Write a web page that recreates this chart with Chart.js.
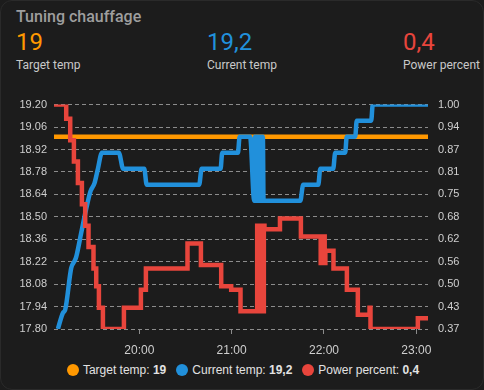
<!DOCTYPE html>
<html>
<head>
<meta charset="utf-8">
<script src="https://cdn.jsdelivr.net/npm/chart.js@4/dist/chart.umd.min.js"></script>
<style>
  html, body { margin: 0; padding: 0; background: #1c1c1c; }
  #card { position: relative; width: 484px; height: 390px; background: #1c1c1c; border-radius: 12px; overflow: hidden; box-sizing: border-box; border: 1px solid #2a2a2a; }
  .t { position: absolute; white-space: nowrap; font-family: Roboto, sans-serif; }
  #title { left: 15px; top: 8px; font-size: 16px; line-height: 16px; color: #9e9e9e; font-weight: 500; }
  .val { font-size: 24px; line-height: 24px; top: 29px; }
  .lab { font-size: 12px; line-height: 12px; top: 58px; color: #c9c9c9; }
  #chartWrap { position: absolute; left: 0; top: 87px; }
  #legend { position: absolute; left: 0; width: 484px; top: 362px; display: flex; justify-content: center; font-family: "Liberation Sans", Arial, sans-serif; font-size: 12px; color: #e2e2e2; }
  .li { display: flex; align-items: center; margin: 0 5px; }
  .dot { width: 12px; height: 12px; border-radius: 50%; margin-right: 4px; display: inline-block; }
</style>
</head>
<body>
<div id="card">
  <div id="title" class="t">Tuning chauffage</div>
  <div class="t val" id="v0" style="left:15px;"></div>
  <div class="t lab" id="l0" style="left:15px;"></div>
  <div class="t val" id="v1" style="left:206px;"></div>
  <div class="t lab" id="l1" style="left:206px;"></div>
  <div class="t val" id="v2" style="left:402px;"></div>
  <div class="t lab" id="l2" style="left:402px;"></div>
  <div id="chartWrap"><canvas id="c" width="484" height="274"></canvas></div>
  <div id="legend"></div>
</div>
<script>
// ---- Data ----
const seriesNames = ['Target temp', 'Current temp', 'Power percent'];
const seriesColors = ['#ff9800', '#2190db', '#e8453c'];
const currentStates = ['19', '19,2', '0,4'];

const xMinTime = '19:04:34';
const xMaxTime = '23:07:36';
const xTickTimes = ['20:00', '21:00', '22:00', '23:00'];

const leftTickLabels = ['17.80','17.94','18.08','18.22','18.36','18.50','18.64','18.78','18.92','19.06','19.20'];
const rightTickLabels = ['0.37','0.43','0.50','0.56','0.62','0.68','0.75','0.81','0.87','0.94','1.00'];

const targetTimes = ['19:04:34', '23:07:36'];
const targetValues = [19, 19];

const currentTimes = [
  '19:07:06','19:10:21','19:11:51','19:15:45','19:17:42','19:19:00','19:22:15','19:25:30','19:28:18','19:30:54',
  '19:33:06','19:35:42','19:46:42','19:49:30','20:03:12','20:04:48','20:38:54','20:40:30','20:52:48','20:53:54',
  '21:04:06','21:05:12','21:12:00','21:14:40','21:15:06','21:15:32','21:15:58','21:16:24','21:16:50','21:17:16',
  '21:17:42','21:18:08','21:18:34','21:19:00','21:19:26','21:19:52','21:20:18','21:20:44','21:44:36','21:46:30',
  '21:56:18','21:57:36','22:06:00','22:07:18','22:13:48','22:14:48','22:20:18','22:21:18','22:30:42','22:31:42',
  '23:07:36'
];
const currentValues = [
  17.80,17.90,17.92,18.18,18.22,18.25,18.40,18.55,18.66,18.71,
  18.80,18.90,18.90,18.80,18.80,18.70,18.70,18.80,18.80,18.90,
  18.90,19.00,19.00,18.60,19.00,18.60,19.00,18.60,19.00,18.60,
  19.00,18.60,19.00,18.60,19.00,18.60,19.00,18.60,18.60,18.70,
  18.70,18.80,18.80,18.90,18.90,19.00,19.00,19.10,19.10,19.20,
  19.20
];

const powerTimes = [
  '19:04:34','19:12:30','19:15:06','19:17:30','19:20:06','19:22:42','19:24:50','19:27:00','19:30:14','19:32:00',
  '19:33:45','19:36:21','19:50:00','20:01:02','20:04:17','20:31:19','20:40:02','20:53:13','20:59:43','21:05:46',
  '21:16:36','21:17:02','21:17:28','21:17:54','21:18:20','21:18:46','21:19:12','21:19:38','21:20:04','21:20:30',
  '21:20:56','21:21:20','21:31:24','21:45:00','21:57:52','21:58:18','21:58:44','21:59:10','21:59:36','22:00:02',
  '22:00:28','22:00:54','22:06:11','22:14:53','22:22:00','22:29:36','22:30:14','23:01:00','23:07:36'
];
const powerValues = [
  1.00,0.96,0.90,0.84,0.78,0.72,0.66,0.60,0.54,0.49,
  0.43,0.37,0.43,0.48,0.54,0.61,0.55,0.49,0.48,0.42,
  0.66,0.42,0.66,0.42,0.66,0.42,0.66,0.42,0.66,0.42,
  0.66,0.65,0.68,0.63,0.555,0.63,0.555,0.63,0.555,0.63,
  0.555,0.59,0.54,0.48,0.41,0.43,0.37,0.40,0.40
];

// ---- Helpers ----
function toMin(s) { const p = s.split(':').map(Number); return p[0] * 60 + p[1] + (p[2] || 0) / 60; }
function pts(times, vals) { return times.map((t, i) => ({ x: toMin(t), y: vals[i] })); }
function fmt(v) { const h = Math.floor(v / 60), m = Math.round(v % 60); return String(h).padStart(2, '0') + ':' + String(m).padStart(2, '0'); }

// header
for (let i = 0; i < 3; i++) {
  const v = document.getElementById('v' + i);
  v.textContent = currentStates[i]; v.style.color = seriesColors[i];
  document.getElementById('l' + i).textContent = seriesNames[i];
}
// legend
const lg = document.getElementById('legend');
seriesNames.forEach((n, i) => {
  const d = document.createElement('div'); d.className = 'li';
  d.innerHTML = '<span class="dot" style="background:' + seriesColors[i] + '"></span><span>' + n + ': <b>' + currentStates[i] + '</b></span>';
  lg.appendChild(d);
});

const gridColor = '#8c8c8c';
const labelColor = '#cfcfcf';
const font = 'Liberation Sans';

new Chart(document.getElementById('c'), {
  type: 'line',
  data: {
    datasets: [
      { label: seriesNames[0], data: pts(targetTimes, targetValues), yAxisID: 'y', borderColor: seriesColors[0], borderWidth: 4.5, pointRadius: 0, stepped: true, order: 3 },
      { label: seriesNames[1], data: pts(currentTimes, currentValues), yAxisID: 'y', borderColor: seriesColors[1], borderWidth: 4.5, pointRadius: 0, cubicInterpolationMode: 'monotone', borderJoinStyle: 'round', order: 2 },
      { label: seriesNames[2], data: pts(powerTimes, powerValues), yAxisID: 'y1', borderColor: seriesColors[2], borderWidth: 4.5, pointRadius: 0, stepped: true, borderJoinStyle: 'miter', order: 1 }
    ]
  },
  options: {
    responsive: false,
    animation: false,
    layout: { padding: { top: 1, left: 0, right: 0, bottom: 0 } },
    plugins: { legend: { display: false }, tooltip: { enabled: false } },
    scales: {
      x: {
        type: 'linear',
        min: toMin(xMinTime),
        max: toMin(xMaxTime),
        afterBuildTicks: s => { s.ticks = xTickTimes.map(t => ({ value: toMin(t) })); },
        afterFit: s => { s.height = 33; },
        ticks: { callback: v => fmt(v), color: labelColor, font: { family: font, size: 12 }, padding: 9, maxRotation: 0, autoSkip: false },
        grid: { drawOnChartArea: false, drawTicks: true, tickLength: 5, color: gridColor },
        border: { display: false }
      },
      y: {
        position: 'left',
        min: 17.8, max: 19.2,
        afterFit: s => { s.width = 53; },
        ticks: { count: 11, callback: (v, i) => leftTickLabels[i], color: labelColor, font: { family: font, size: 11 }, padding: 7 },
        grid: { color: gridColor, drawTicks: false, lineWidth: 1 },
        border: { display: false, dash: [4, 3] }
      },
      y1: {
        position: 'right',
        min: 0.37, max: 1.0,
        afterFit: s => { s.width = 57; },
        ticks: { count: 11, callback: (v, i) => rightTickLabels[i], color: labelColor, font: { family: font, size: 11 }, padding: 10 },
        grid: { drawOnChartArea: false, drawTicks: false },
        border: { display: false }
      }
    }
  }
});
</script>
</body>
</html>
